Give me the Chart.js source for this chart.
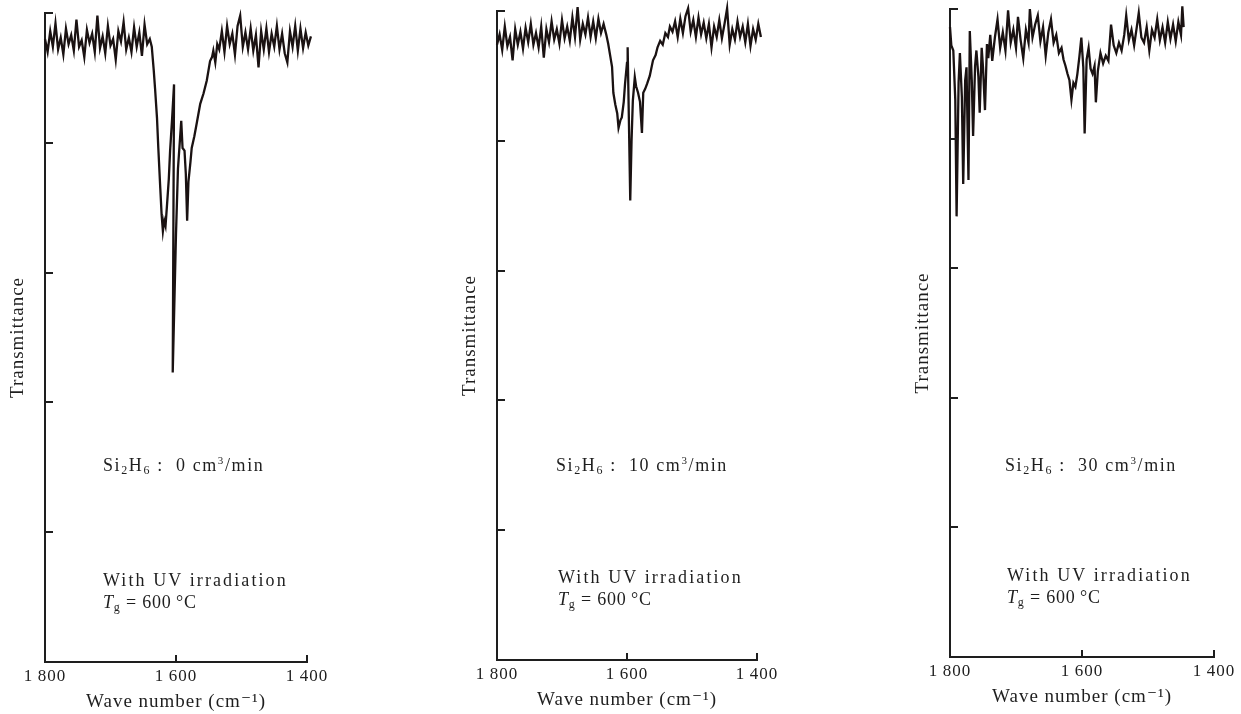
<!DOCTYPE html>
<html lang="en">
<head>
  <meta charset="UTF-8" />
  <title>IR transmittance – Si2H6 flow</title>
  <script src="https://cdn.jsdelivr.net/npm/chart.js"></script>
  <style>
    body { margin: 0; background: #fff; }
    .pai { position: relative; width: 1241px; height: 714px; overflow: hidden; }
    .pai canvas { position: absolute; top: 0; }
    .nota {
      position: absolute;
      font-family: "Liberation Serif", "DejaVu Serif", serif;
      font-size: 18px;
      letter-spacing: 1.6px;
      color: #1e1e1e;
      white-space: nowrap;
      line-height: 22px;
    }
    .nota.uv { letter-spacing: 2.1px; }
    .nota .tg { letter-spacing: 0.8px; }
    .nota sub { font-size: 12px; vertical-align: -3px; line-height: 0; }
    .nota sup { font-size: 11px; vertical-align: 7px; line-height: 0; }
  </style>
</head>
<body>
  <div class="pai">
    <canvas id="grafico0" width="330" height="714" style="left:0px"></canvas>
    <canvas id="grafico10" width="330" height="714" style="left:452px"></canvas>
    <canvas id="grafico30" width="336" height="714" style="left:905px"></canvas>

    <div class="nota" style="left:103px; top:454px;">Si<sub>2</sub>H<sub>6</sub> :&nbsp; 0 cm<sup>3</sup>/min</div>
    <div class="nota uv" style="left:103px; top:569px;">With UV irradiation<br><span class="tg"><i>T</i><sub>g</sub> = 600&thinsp;°C</span></div>

    <div class="nota" style="left:556px; top:454px;">Si<sub>2</sub>H<sub>6</sub> :&nbsp; 10 cm<sup>3</sup>/min</div>
    <div class="nota uv" style="left:558px; top:566px;">With UV irradiation<br><span class="tg"><i>T</i><sub>g</sub> = 600&thinsp;°C</span></div>

    <div class="nota" style="left:1005px; top:454px;">Si<sub>2</sub>H<sub>6</sub> :&nbsp; 30 cm<sup>3</sup>/min</div>
    <div class="nota uv" style="left:1007px; top:564px;">With UV irradiation<br><span class="tg"><i>T</i><sub>g</sub> = 600&thinsp;°C</span></div>
  </div>

  <script>
    // eixos
    var xTicks = [1800, 1600, 1400];
    var xTickLabels = ['1\u2009800', '1\u2009600', '1\u2009400'];
    var yTicks = [1, 2, 3, 4, 5];

    // 0 cm3/min
    var ondaA = [
      1800, 1796, 1792, 1788, 1784, 1780, 1776, 1772, 1768, 1764,
      1760, 1756, 1752, 1748, 1744, 1740, 1736, 1732, 1728, 1724,
      1720, 1716, 1712, 1708, 1704, 1700, 1696, 1692, 1688, 1684,
      1680, 1676, 1672, 1668, 1664, 1660, 1656, 1652, 1648, 1644, 1640,
      1637, 1634, 1632, 1629, 1627, 1624, 1622, 1620, 1618, 1616,
      1614, 1611, 1609, 1606, 1603, 1605, 1600, 1597, 1592, 1590,
      1587, 1585, 1583, 1581, 1578, 1576, 1572, 1568, 1563, 1558,
      1553, 1548, 1545, 1543, 1540, 1537,
      1534, 1530, 1526, 1522, 1518, 1514, 1510, 1506, 1502, 1498,
      1494, 1490, 1486, 1482, 1478, 1474, 1470, 1466, 1462, 1458,
      1454, 1450, 1446, 1442, 1438, 1434, 1430, 1426, 1422, 1418,
      1414, 1410, 1406, 1402, 1398, 1394
    ];
    var transA = [
      4.80, 4.70, 4.86, 4.74, 4.92, 4.72, 4.81, 4.68, 4.88, 4.76,
      4.83, 4.71, 4.95, 4.74, 4.79, 4.66, 4.87, 4.77, 4.84, 4.70,
      4.98, 4.73, 4.82, 4.69, 4.90, 4.75, 4.80, 4.64, 4.86, 4.78,
      4.93, 4.72, 4.81, 4.70, 4.89, 4.74, 4.85, 4.67, 4.91, 4.76, 4.80,
      4.74, 4.56, 4.42, 4.19, 3.96, 3.65, 3.45, 3.32, 3.40, 3.36,
      3.50, 3.72, 3.94, 4.18, 4.45, 2.23, 3.30, 3.80, 4.17, 3.96,
      3.94, 3.76, 3.40, 3.70, 3.85, 3.96, 4.05, 4.16, 4.30, 4.38,
      4.48, 4.63, 4.66, 4.71, 4.62, 4.76,
      4.72, 4.86, 4.70, 4.90, 4.76, 4.84, 4.68, 4.90, 4.98, 4.74,
      4.85, 4.72, 4.88, 4.71, 4.83, 4.58, 4.86, 4.72, 4.88, 4.70,
      4.84, 4.74, 4.90, 4.72, 4.84, 4.69, 4.62, 4.86, 4.74, 4.90,
      4.71, 4.88, 4.73, 4.85, 4.75, 4.82
    ];

    // 10 cm3/min
    var ondaB = [
      1800, 1796, 1792, 1788, 1784, 1780, 1776, 1772, 1768, 1764,
      1760, 1756, 1752, 1748, 1744, 1740, 1736, 1732, 1728, 1724,
      1720, 1716, 1712, 1708, 1704, 1700, 1696, 1692, 1688, 1684,
      1680, 1676, 1672, 1668, 1664, 1660, 1656, 1652, 1648, 1644,
      1640, 1636, 1632,
      1629, 1626, 1623, 1621, 1618, 1615, 1613, 1610, 1608, 1605,
      1603, 1600, 1599, 1595, 1593, 1591, 1588, 1586, 1583, 1580,
      1577, 1575, 1572, 1569, 1565, 1560, 1556, 1553, 1549, 1545,
      1541, 1537, 1534,
      1530, 1526, 1522, 1518, 1514, 1510, 1506, 1502, 1498, 1494,
      1490, 1486, 1482, 1478, 1474, 1470, 1466, 1462, 1458, 1454,
      1450, 1446, 1442, 1438, 1434, 1430, 1426, 1422, 1418, 1414,
      1410, 1406, 1402, 1398, 1394
    ];
    var transB = [
      4.74, 4.82, 4.70, 4.88, 4.73, 4.80, 4.62, 4.86, 4.74, 4.84,
      4.71, 4.87, 4.76, 4.90, 4.74, 4.83, 4.72, 4.88, 4.64, 4.86,
      4.76, 4.92, 4.78, 4.86, 4.75, 4.93, 4.79, 4.88, 4.77, 4.95,
      4.80, 5.03, 4.78, 4.90, 4.82, 4.95, 4.80, 4.92, 4.79, 4.94,
      4.83, 4.90, 4.82,
      4.75, 4.66, 4.57, 4.37, 4.28, 4.21, 4.10, 4.16, 4.18, 4.30,
      4.44, 4.60, 4.72, 3.54, 4.00, 4.31, 4.49, 4.42, 4.37, 4.30,
      4.06, 4.37, 4.40, 4.44, 4.50, 4.62, 4.66, 4.72, 4.77, 4.74,
      4.83, 4.80, 4.88,
      4.84, 4.92, 4.80, 4.94, 4.83, 4.96, 5.02, 4.84, 4.93, 4.80,
      4.95, 4.82, 4.91, 4.79, 4.90, 4.72, 4.88, 4.80, 4.93, 4.79,
      4.90, 5.02, 4.74, 4.86, 4.78, 4.92, 4.80, 4.88, 4.76, 4.90,
      4.73, 4.86, 4.78, 4.90, 4.80
    ];

    // 30 cm3/min
    var ondaC = [
      1800, 1798, 1795, 1792, 1790, 1787, 1785, 1782, 1780, 1777,
      1775, 1772, 1770, 1767, 1765, 1762, 1760, 1757, 1755, 1752,
      1750, 1747, 1744, 1742, 1739, 1736, 1732, 1728, 1724, 1720,
      1716, 1712, 1708, 1704, 1700, 1697, 1693, 1689, 1685, 1681,
      1679, 1675, 1671, 1667, 1663, 1659, 1655, 1651, 1647, 1643,
      1639, 1635,
      1631, 1628, 1625, 1622, 1619, 1616, 1613, 1610, 1607, 1604,
      1601, 1598, 1596, 1593, 1590, 1587, 1584, 1581, 1579, 1576,
      1572, 1568, 1564, 1560, 1556, 1552, 1548, 1544, 1540, 1536,
      1533, 1529, 1525, 1521, 1517, 1514, 1510, 1506, 1502, 1498,
      1494, 1490, 1486, 1482, 1478, 1474, 1470, 1466, 1462, 1458,
      1454, 1450, 1448, 1446
    ];
    var transC = [
      4.86, 4.72, 4.68, 4.30, 3.40, 4.43, 4.66, 4.32, 3.65, 4.45,
      4.55, 3.68, 4.83, 4.45, 4.02, 4.56, 4.68, 4.48, 4.20, 4.70,
      4.55, 4.22, 4.73, 4.62, 4.80, 4.60, 4.78, 4.92, 4.70, 4.82,
      4.68, 4.99, 4.74, 4.84, 4.70, 4.94, 4.76, 4.62, 4.84, 4.74,
      5.00, 4.78, 4.88, 4.95, 4.75, 4.86, 4.64, 4.82, 4.92, 4.74,
      4.80, 4.66,
      4.70, 4.61, 4.56, 4.50, 4.45, 4.30, 4.43, 4.40, 4.50, 4.63,
      4.78, 4.55, 4.04, 4.61, 4.70, 4.54, 4.50, 4.56, 4.28, 4.52,
      4.66, 4.58, 4.64, 4.60, 4.88, 4.72, 4.66, 4.74, 4.68, 4.80,
      4.95, 4.76, 4.84, 4.72, 4.86, 4.97, 4.78, 4.74, 4.86, 4.68,
      4.84, 4.78, 4.92, 4.76, 4.86, 4.74, 4.90, 4.77, 4.88, 4.75,
      4.90, 4.80, 5.02, 4.86
    ];

    var fonte = '"Liberation Serif", "DejaVu Serif", serif';
    var corTexto = '#1e1e1e';
    var corEixo = '#1e1e1e';
    var corTraco = '#1a1212';

    // tracinhos para dentro nos dois eixos
    var ticksInternos = {
      id: 'ticksInternos',
      afterDraw: function(chart) {
        var ctx = chart.ctx;
        var area = chart.chartArea;
        var sx = chart.scales.x;
        var sy = chart.scales.y;
        ctx.save();
        ctx.strokeStyle = corEixo;
        ctx.lineWidth = 2;
        ctx.beginPath();
        for (var i = 0; i < yTicks.length; i++) {
          var py = Math.round(sy.getPixelForValue(yTicks[i]));
          ctx.moveTo(area.left, py);
          ctx.lineTo(area.left + 8, py);
        }
        for (var j = 1; j < xTicks.length; j++) {
          var px = Math.round(sx.getPixelForValue(xTicks[j]));
          ctx.moveTo(px, area.bottom);
          ctx.lineTo(px, area.bottom - 7);
        }
        ctx.stroke();
        ctx.restore();
      }
    };

    var espacamento = {
      id: 'espacamento',
      beforeDraw: function(chart) {
        chart.ctx.letterSpacing = '1px';
      }
    };

    function criarGrafico(id, onda, trans, lay) {
      var pontos = [];
      for (var i = 0; i < onda.length; i++) {
        pontos.push({ x: onda[i], y: trans[i] });
      }
      var alturaX = 714 - lay.eixoX;

      new Chart(document.getElementById(id), {
        type: 'line',
        data: {
          datasets: [{
            data: pontos,
            borderColor: corTraco,
            borderWidth: 2.3,
            borderJoinStyle: 'miter',
            pointRadius: 0,
            tension: 0,
            clip: false
          }]
        },
        options: {
          responsive: false,
          animation: false,
          devicePixelRatio: 1,
          layout: { padding: { top: lay.top, right: lay.padRight, bottom: 0, left: 0 } },
          plugins: { legend: { display: false }, tooltip: { enabled: false } },
          scales: {
            x: {
              type: 'linear',
              reverse: true,
              min: 1400,
              max: 1800,
              afterBuildTicks: function(s) {
                s.ticks = xTicks.map(function(v) { return { value: v }; });
              },
              afterFit: function(s) { s.height = alturaX; },
              grid: { display: false, drawTicks: false },
              border: { display: true, color: corEixo, width: 2 },
              ticks: {
                padding: 4,
                color: corTexto,
                maxRotation: 0,
                autoSkip: false,
                font: { family: fonte, size: 17 },
                callback: function(v) { return xTickLabels[xTicks.indexOf(v)]; }
              },
              title: {
                display: true,
                text: 'Wave number (cm\u207B\u00B9)',
                color: corTexto,
                font: { family: fonte, size: 19 },
                padding: { top: 0, bottom: Math.max(0, alturaX - 51.4) }
              }
            },
            y: {
              min: 0,
              max: 5,
              afterFit: function(s) { s.width = 45; },
              grid: { display: false, drawTicks: false },
              border: { display: true, color: corEixo, width: 2 },
              ticks: { display: false },
              title: {
                display: true,
                text: 'Transmittance',
                color: corTexto,
                font: { family: fonte, size: 19 },
                padding: { top: 7, bottom: 0 }
              }
            }
          }
        },
        plugins: [ticksInternos, espacamento]
      });
    }

    criarGrafico('grafico0', ondaA, transA, { top: 13, eixoX: 662, padRight: 23 });
    criarGrafico('grafico10', ondaB, transB, { top: 11, eixoX: 660, padRight: 25 });
    criarGrafico('grafico30', ondaC, transC, { top: 9, eixoX: 657, padRight: 27 });
  </script>
</body>
</html>
